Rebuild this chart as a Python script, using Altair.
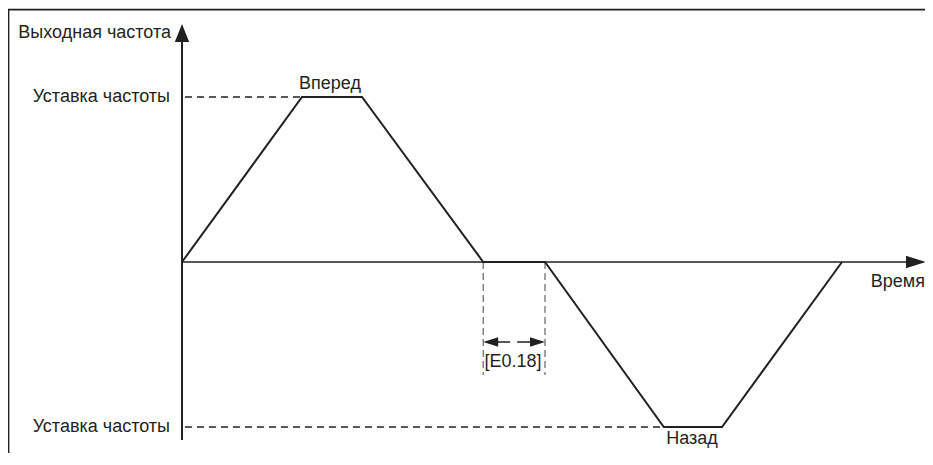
import altair as alt
import pandas as pd

# ---------------- data (time units, frequency in setpoint units) ----------------
profile_t = [0, 2, 3, 5.02, 6.05, 8.03, 9, 11]
profile_f = [0, 1, 1, 0, 0, -1, -1, 0]

setpoint_f = [1, -1]
setpoint_t_start = [0.05, 0.05]
setpoint_t_end = [2, 8.03]
setpoint_label = ["Уставка частоты", "Уставка частоты"]
setpoint_label_t = [-0.2, -0.2]

direction_label = ["Вперед", "Назад"]
direction_t = [2.467, 8.5]
direction_f = [1.079, -1.073]

gap_t = [5.02, 6.05]
gap_f_bottom = -0.685
gap_arrow_f = -0.485
gap_label = ["[E0.18]"]
gap_label_t = [5.517]
gap_label_f = [-0.606]

axis_y_label = ["Выходная частота"]
axis_x_label = ["Время"]

X_DOMAIN = [-2.9, 12.3833]
Y_DOMAIN = [-1.1576, 1.5394]

INK = "#231f20"
FONT = "Liberation Sans"
FS = 18

xs = alt.Scale(domain=X_DOMAIN, nice=False, zero=False)
ys = alt.Scale(domain=Y_DOMAIN, nice=False, zero=False)
X = lambda f: alt.X(f, type="quantitative", scale=xs, axis=None)
Y = lambda f: alt.Y(f, type="quantitative", scale=ys, axis=None)

# frame (top and left borders)
frame = pd.DataFrame({"t": [X_DOMAIN[0], -2.892], "t2": [X_DOMAIN[1], -2.892],
                      "f": [1.530, 1.530], "f2": [1.530, Y_DOMAIN[0]]})
frame_layer = alt.Chart(frame).mark_rule(color=INK, strokeWidth=1.8).encode(
    x=X("t"), x2="t2", y=Y("f"), y2="f2")

# axes
yaxis = pd.DataFrame({"t": [0], "t2": [0], "f": [-1.079], "f2": [1.333]})
xaxis = pd.DataFrame({"t": [0], "t2": [12.067], "f": [0], "f2": [0]})
yaxis_layer = alt.Chart(yaxis).mark_rule(color=INK, strokeWidth=2).encode(
    x=X("t"), x2="t2", y=Y("f"), y2="f2")
xaxis_layer = alt.Chart(xaxis).mark_rule(color=INK, strokeWidth=1.5).encode(
    x=X("t"), x2="t2", y=Y("f"), y2="f2")

yarrow = pd.DataFrame({"t": [0], "f": [1.388]})
xarrow = pd.DataFrame({"t": [12.233], "f": [0]})
yarrow_layer = alt.Chart(yarrow).mark_point(
    shape="M0,-1L-0.8,1L0.8,1Z", size=324, filled=True, color=INK, opacity=1
).encode(x=X("t"), y=Y("f"))
xarrow_layer = alt.Chart(xarrow).mark_point(
    shape="M-1,-0.62L1,0L-1,0.62Z", size=400, filled=True, color=INK, opacity=1
).encode(x=X("t"), y=Y("f"))

# setpoint dashed lines
sp = pd.DataFrame({"t": setpoint_t_start, "t2": setpoint_t_end, "f": setpoint_f})
sp_layer = alt.Chart(sp).mark_rule(color=INK, strokeWidth=1.3, strokeDash=[7, 5]).encode(
    x=X("t"), x2="t2", y=Y("f"))

# gap verticals
gv = pd.DataFrame({"t": gap_t, "f": [0, 0], "f2": [gap_f_bottom, gap_f_bottom]})
gv_layer = alt.Chart(gv).mark_rule(color="#444444", strokeWidth=1, strokeDash=[7, 4]).encode(
    x=X("t"), y=Y("f"), y2="f2")

# double arrow
shaft = pd.DataFrame({"t": [gap_t[0] + 0.233], "t2": [gap_t[1] - 0.25], "f": [gap_arrow_f]})
shaft_layer = alt.Chart(shaft).mark_rule(color=INK, strokeWidth=1.3, strokeDash=[13, 7]).encode(
    x=X("t"), x2="t2", y=Y("f"))
lhead = pd.DataFrame({"t": [gap_t[0] + 0.125], "f": [gap_arrow_f]})
rhead = pd.DataFrame({"t": [gap_t[1] - 0.125], "f": [gap_arrow_f]})
lhead_layer = alt.Chart(lhead).mark_point(
    shape="M-1,0L1,-0.62L1,0.62Z", size=225, filled=True, color=INK, opacity=1
).encode(x=X("t"), y=Y("f"))
rhead_layer = alt.Chart(rhead).mark_point(
    shape="M1,0L-1,-0.62L-1,0.62Z", size=225, filled=True, color=INK, opacity=1
).encode(x=X("t"), y=Y("f"))

# profile
prof = pd.DataFrame({"t": profile_t, "f": profile_f, "i": list(range(len(profile_t)))})
prof_layer = alt.Chart(prof).mark_line(color=INK, strokeWidth=2).encode(
    x=X("t"), y=Y("f"), order="i:Q")

# texts
right_txt = pd.DataFrame({
    "t": setpoint_label_t + [-0.183, 12.383],
    "f": setpoint_f + [1.388, -0.121],
    "label": setpoint_label + axis_y_label + axis_x_label,
})
right_layer = alt.Chart(right_txt).mark_text(
    align="right", baseline="middle", font=FONT, fontSize=FS, color=INK
).encode(x=X("t"), y=Y("f"), text="label:N")

center_txt = pd.DataFrame({
    "t": direction_t + gap_label_t,
    "f": direction_f + gap_label_f,
    "label": direction_label + gap_label,
})
center_layer = alt.Chart(center_txt).mark_text(
    align="center", baseline="middle", font=FONT, fontSize=FS, color=INK
).encode(x=X("t"), y=Y("f"), text="label:N")

chart = alt.layer(
    frame_layer, sp_layer, gv_layer, xaxis_layer, yaxis_layer, yarrow_layer, xarrow_layer,
    shaft_layer, lhead_layer, rhead_layer, prof_layer, right_layer, center_layer
).properties(
    width=917, height=445, padding=0,
    autosize=alt.AutoSizeParams(type="none"),
    background="white",
).configure_view(stroke=None)

chart.save("out.html", embed_options={"renderer": "svg", "actions": False})
